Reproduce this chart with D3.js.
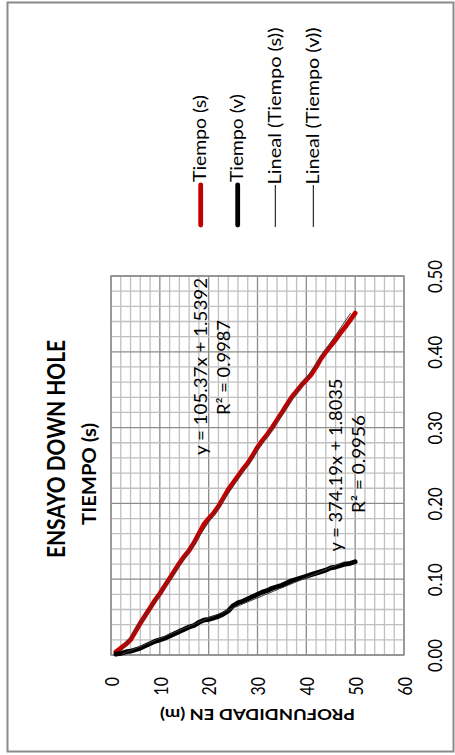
<!DOCTYPE html>
<html>
<head>
<meta charset="utf-8">
<script src="https://cdn.jsdelivr.net/npm/d3@7/dist/d3.min.js"></script>
<style>
  html, body { margin: 0; padding: 0; background: #ffffff; }
  svg { display: block; }
  text { font-family: Lato, "Open Sans", "Liberation Sans", Arial, sans-serif; fill: #000; }
</style>
</head>
<body>
<svg id="chart" width="455" height="755"></svg>
<script>
// Down-hole test: depth (m) against arrival time (s) for S and P waves
const depths = [1, 2, 3, 4, 5, 6, 7, 8, 9, 10,
  11, 12, 13, 14, 15, 16, 17, 18, 19, 20,
  21, 22, 23, 24, 25, 26, 27, 28, 29, 30,
  31, 32, 33, 34, 35, 36, 37, 38, 39, 40,
  41, 42, 43, 44, 45, 46, 47, 48, 49, 50];

const tiempoS = [0.004, 0.009, 0.014, 0.020, 0.031, 0.042, 0.052, 0.062, 0.072, 0.081,
  0.091, 0.101, 0.111, 0.121, 0.130, 0.138, 0.148, 0.160, 0.172, 0.180,
  0.187, 0.196, 0.207, 0.218, 0.227, 0.236, 0.245, 0.253, 0.263, 0.274,
  0.283, 0.291, 0.300, 0.310, 0.320, 0.330, 0.340, 0.348, 0.356, 0.363,
  0.370, 0.380, 0.391, 0.400, 0.408, 0.416, 0.425, 0.433, 0.442, 0.451];

const tiempoV = [0.001, 0.002, 0.004, 0.005, 0.007, 0.009, 0.012, 0.015, 0.018, 0.020,
  0.022, 0.025, 0.028, 0.031, 0.034, 0.037, 0.039, 0.043, 0.046, 0.047,
  0.049, 0.051, 0.054, 0.058, 0.065, 0.069, 0.071, 0.074, 0.077, 0.080,
  0.083, 0.085, 0.088, 0.090, 0.092, 0.095, 0.098, 0.100, 0.102, 0.104,
  0.106, 0.108, 0.110, 0.112, 0.115, 0.116, 0.118, 0.120, 0.121, 0.123];

// Linear trend lines: depth = slope * time + intercept
const trendSlope = [105.37, 374.19];
const trendIntercept = [1.5392, 1.8035];
const trendR2 = [0.9987, 0.9956];

const legendNames = ["Tiempo (s)", "Tiempo (v)", "Lineal (Tiempo (s))", "Lineal (Tiempo (v))"];
const depthTicks = [0, 10, 20, 30, 40, 50, 60];
const timeTicks = [0.0, 0.1, 0.2, 0.3, 0.4, 0.5];

const titleText = "ENSAYO DOWN HOLE";
const timeTitle = "TIEMPO (s)";
const depthTitle = "PROFUNDIDAD EN (m)";

const svg = d3.select("#chart");

// Outer frame
svg.append("rect")
  .attr("x", 7.5).attr("y", 2.5).attr("width", 446).attr("height", 749)
  .attr("fill", "none").attr("stroke", "#8a8a8a").attr("stroke-width", 2);

// Plot area (drawn turned a quarter turn: depth runs left→right, time runs bottom→top)
const x = d3.scaleLinear().domain([0, 60]).range([111, 404]);
const y = d3.scaleLinear().domain([0, 0.5]).range([655, 276]);

const grid = svg.append("g");
const minorDepth = d3.range(0, 60.001, 2);
const minorTime = d3.range(0, 0.5001, 0.02);

grid.selectAll("line.v").data(minorDepth).join("line")
  .attr("x1", d => x(d)).attr("x2", d => x(d))
  .attr("y1", y(0)).attr("y2", y(0.5))
  .attr("stroke", d => (Math.round(d) % 10 === 0) ? "#8c8c8c" : "#c0c0c0")
  .attr("stroke-width", 1.3);

grid.selectAll("line.h").data(minorTime).join("line")
  .attr("y1", d => y(d)).attr("y2", d => y(d))
  .attr("x1", x(0)).attr("x2", x(60))
  .attr("stroke", d => (Math.round(d * 100) % 10 === 0) ? "#8c8c8c" : "#c0c0c0")
  .attr("stroke-width", 1.3);

svg.append("rect")
  .attr("x", x(0)).attr("y", y(0.5))
  .attr("width", x(60) - x(0)).attr("height", y(0) - y(0.5))
  .attr("fill", "none").attr("stroke", "#8c8c8c").attr("stroke-width", 1.3);

// Depth axis labels (below the plot)
const depthAxis = d3.axisBottom(x).tickValues(depthTicks).tickSize(0).tickFormat(d3.format("d"));
const gDepth = svg.append("g").attr("transform", `translate(0,${y(0)})`).call(depthAxis);
gDepth.select(".domain").remove();
gDepth.selectAll("text")
  .attr("transform", "rotate(-90)")
  .attr("x", -22).attr("y", 0).attr("dy", "0.36em")
  .attr("text-anchor", "end")
  .attr("font-size", 20)
  .attr("textLength", d => String(d).length * 9.2)
  .attr("lengthAdjust", "spacingAndGlyphs")
  .style("font-family", "Lato, 'Open Sans', 'Liberation Sans', sans-serif");

// Time axis labels (right of the plot)
const timeAxis = d3.axisRight(y).tickValues(timeTicks).tickSize(0).tickFormat(d3.format(".2f"));
const gTime = svg.append("g").attr("transform", `translate(${x(60)},0)`).call(timeAxis);
gTime.select(".domain").remove();
gTime.selectAll("text")
  .attr("transform", "rotate(-90)")
  .attr("x", 0).attr("y", 38).attr("dy", 0)
  .attr("text-anchor", "middle")
  .attr("font-size", 20)
  .attr("textLength", 33)
  .attr("lengthAdjust", "spacingAndGlyphs")
  .style("font-family", "Lato, 'Open Sans', 'Liberation Sans', sans-serif");

// Measured series
const colors = ["#c00000", "#000000"];
const seriesData = [tiempoS, tiempoV].map(ts => depths.map((d, i) => ({ d, t: ts[i] })));
const line = d3.line().x(p => x(p.d)).y(p => y(p.t)).curve(d3.curveLinear);

svg.append("g").selectAll("path").data(seriesData).join("path")
  .attr("d", line)
  .attr("fill", "none")
  .attr("stroke", (s, i) => colors[i])
  .attr("stroke-width", 4.8)
  .attr("stroke-linejoin", "round")
  .attr("stroke-linecap", "round");

// Linear trend lines across the time range of each series
const trendData = [tiempoS, tiempoV].map((ts, i) => {
  const [t0, t1] = d3.extent(ts);
  return [t0, t1].map(t => ({ t, d: trendSlope[i] * t + trendIntercept[i] }));
});
svg.append("g").selectAll("path").data(trendData).join("path")
  .attr("d", line)
  .attr("fill", "none")
  .attr("stroke", "#3a3a3a")
  .attr("stroke-width", 1);

// Trend equations
const eqFmt = (i) => `y = ${trendSlope[i]}x + ${trendIntercept[i]}`;
const r2Fmt = (i) => `R² = ${trendR2[i].toFixed(4)}`;
const eqLayout = [
  { bx: [206.5, 229.5], cy: [366.5, 367.5], len: [177, 95] },
  { bx: [341.5, 364.5], cy: [465, 464], len: [173, 98] }
];
eqLayout.forEach((L, i) => {
  [eqFmt(i), r2Fmt(i)].forEach((txt, k) => {
    svg.append("text")
      .attr("transform", `translate(${L.bx[k]},${L.cy[k]}) rotate(-90)`)
      .attr("text-anchor", "middle")
      .attr("font-size", 16.5)
      .attr("textLength", L.len[k])
      .attr("lengthAdjust", "spacingAndGlyphs")
      .text(txt);
  });
});

// Titles
svg.append("text")
  .attr("transform", "translate(65,449) rotate(-90)")
  .attr("text-anchor", "middle")
  .attr("font-size", 25).attr("font-weight", "bold")
  .attr("textLength", 218).attr("lengthAdjust", "spacingAndGlyphs")
  .text(titleText);

svg.append("text")
  .attr("transform", "translate(96,474) rotate(-90)")
  .attr("text-anchor", "middle")
  .attr("font-size", 18).attr("font-weight", "bold")
  .attr("textLength", 102).attr("lengthAdjust", "spacingAndGlyphs")
  .text(timeTitle);

svg.append("text")
  .attr("transform", "translate(257.5,709) rotate(180)")
  .attr("text-anchor", "middle")
  .attr("font-size", 16).attr("font-weight", "bold")
  .attr("textLength", 195).attr("lengthAdjust", "spacingAndGlyphs")
  .text(depthTitle);

// Legend (entries stacked left→right, reading bottom→top)
const legendX = [200.7, 237.7, 275.3, 313.3];
const legendLen = [87, 88, 157, 157];
const legendStroke = ["#c00000", "#000000", "#000000", "#000000"];
const legendWidth = [4.8, 4.8, 1, 1];
const lg = svg.append("g");
legendNames.forEach((name, i) => {
  const thick = legendWidth[i] > 2;
  lg.append("line")
    .attr("x1", legendX[i]).attr("x2", legendX[i])
    .attr("y1", 185).attr("y2", thick ? 225 : 227)
    .attr("stroke", legendStroke[i]).attr("stroke-width", legendWidth[i])
    .attr("stroke-linecap", thick ? "round" : "butt");
  lg.append("text")
    .attr("transform", `translate(${legendX[i] + 5.5},${thick ? 182 : 184.5}) rotate(-90)`)
    .attr("text-anchor", "start")
    .attr("font-size", 16.5)
    .attr("textLength", legendLen[i])
    .attr("lengthAdjust", "spacingAndGlyphs")
    .text(name);
});
</script>
</body>
</html>
